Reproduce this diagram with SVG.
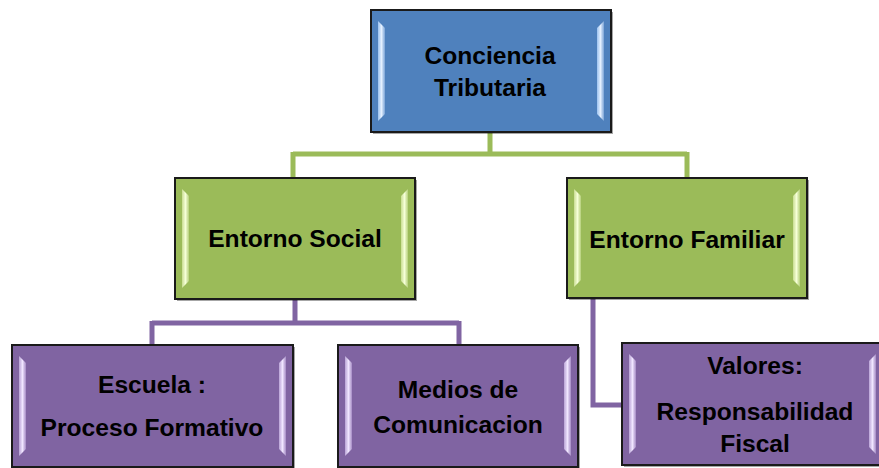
<svg xmlns="http://www.w3.org/2000/svg" width="879" height="468" viewBox="0 0 879 468">
<defs>
<style>
.lbl{font-family:"Liberation Sans",Arial,sans-serif;font-weight:bold;font-size:24.6px;fill:#000;text-anchor:middle}
.box{stroke:#1a1a1a;stroke-width:2}
.blue{fill:#4F81BD}.green{fill:#9BBB59}.purple{fill:#8064A2}
.cg{stroke:#9BBB59;stroke-width:5;fill:none}
.cp{stroke:#8064A2;stroke-width:5;fill:none}
.sh{fill:#000;opacity:0.35}
</style>
<linearGradient id="hlB" x1="0" y1="0" x2="1" y2="0"><stop offset="0" stop-color="#9cc2ef"/><stop offset="0.5" stop-color="#e4f0ff"/><stop offset="1" stop-color="#7aa3d6"/></linearGradient>
<linearGradient id="hlG" x1="0" y1="0" x2="1" y2="0"><stop offset="0" stop-color="#c9dd92"/><stop offset="0.5" stop-color="#f6ffd8"/><stop offset="1" stop-color="#b5cf7a"/></linearGradient>
<linearGradient id="hlP" x1="0" y1="0" x2="1" y2="0"><stop offset="0" stop-color="#b9a3d6"/><stop offset="0.5" stop-color="#f0e6ff"/><stop offset="1" stop-color="#a48ac4"/></linearGradient>
</defs>
<g id="connectors">
<path class="cg" d="M490 132V154M293 154H687M293 152V178M687 152V178"/>
<path class="cp" d="M295 299V323M152 323H459M152 321V345M459 321V345"/>
<path class="cp" d="M593 298V405H622"/>
</g>
<g id="n1">
<rect class="sh" x="373" y="12" width="240" height="122"/>
<rect class="box blue" x="371" y="10" width="240" height="122"/>
<polygon fill="url(#hlB)" points="378,21 385,28 385,114 378,121"/>
<polygon fill="url(#hlB)" points="604,21 597,28 597,114 604,121"/>
<text class="lbl" x="490" y="64">Conciencia</text>
<text class="lbl" x="490" y="96">Tributaria</text>
</g>
<g id="n2">
<rect class="sh" x="177" y="180" width="240" height="121"/>
<rect class="box green" x="175" y="178" width="240" height="121"/>
<polygon fill="url(#hlG)" points="182,189 189,196 189,281 182,288"/>
<polygon fill="url(#hlG)" points="408,189 401,196 401,281 408,288"/>
<text class="lbl" x="295" y="247">Entorno Social</text>
</g>
<g id="n3">
<rect class="sh" x="569" y="180" width="240" height="120"/>
<rect class="box green" x="567" y="178" width="240" height="120"/>
<polygon fill="url(#hlG)" points="574,189 581,196 581,280 574,287"/>
<polygon fill="url(#hlG)" points="800,189 793,196 793,280 800,287"/>
<text class="lbl" x="687" y="248">Entorno Familiar</text>
</g>
<g id="n4">
<rect class="sh" x="14" y="347" width="281" height="122"/>
<rect class="box purple" x="12" y="345" width="281" height="122"/>
<polygon fill="url(#hlP)" points="19,356 26,363 26,449 19,456"/>
<polygon fill="url(#hlP)" points="286,356 279,363 279,449 286,456"/>
<text class="lbl" x="152" y="393">Escuela :</text>
<text class="lbl" x="152" y="436">Proceso Formativo</text>
</g>
<g id="n5">
<rect class="sh" x="340" y="347" width="240" height="122"/>
<rect class="box purple" x="338" y="345" width="240" height="122"/>
<polygon fill="url(#hlP)" points="345,356 352,363 352,449 345,456"/>
<polygon fill="url(#hlP)" points="571,356 564,363 564,449 571,456"/>
<text class="lbl" x="458" y="398">Medios de</text>
<text class="lbl" x="458" y="433">Comunicacion</text>
</g>
<g id="n6">
<rect class="sh" x="624" y="345" width="260" height="122"/>
<rect class="box purple" x="622" y="343" width="260" height="122"/>
<polygon fill="url(#hlP)" points="629,354 636,361 636,447 629,454"/>
<polygon fill="url(#hlP)" points="876,354 869,361 869,447 876,454"/>
<text class="lbl" x="755" y="374">Valores:</text>
<text class="lbl" x="755" y="420">Responsabilidad</text>
<text class="lbl" x="755" y="452">Fiscal</text>
</g>
</svg>
